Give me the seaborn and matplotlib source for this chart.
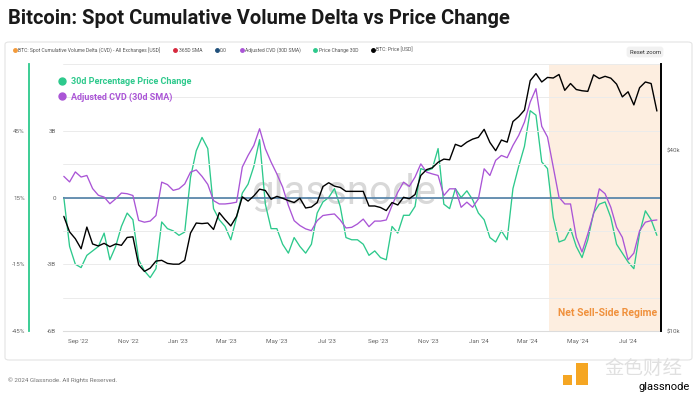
import numpy as np
import pandas as pd
import matplotlib
matplotlib.use("Agg")
import matplotlib.pyplot as plt
import matplotlib.dates as mdates
from matplotlib.lines import Line2D
from matplotlib.patches import FancyBboxPatch, Rectangle
from matplotlib.ticker import FixedLocator, NullLocator
import seaborn as sns

# ------------------------------------------------------------
# data (weekly samples, Mondays from 2022-08-15)
# ------------------------------------------------------------
START_DATE = "2022-08-15"

btc_price_k = [
    24.1, 21.4, 20.3, 18.8, 22.2, 19.5, 19.2, 19.6, 19.1, 19.5,
    19.3, 20.5, 20.6, 16.6, 15.8, 16.2, 17.1, 17.2, 16.8, 16.7,
    16.7, 17.2, 21.2, 22.9, 22.8, 22.9, 21.8, 24.8, 23.5, 22.4,
    24.1, 28.0, 27.1, 28.2, 29.7, 29.4, 27.5, 28.1, 27.7, 27.2,
    26.8, 27.7, 25.7, 25.9, 26.8, 30.3, 31.2, 30.4, 30.1, 29.2,
    29.2, 29.2, 29.2, 26.1, 26.1, 25.8, 25.2, 26.8, 26.3, 27.9,
    27.6, 28.5, 33.0, 34.5, 35.0, 36.5, 37.4, 37.2, 41.9, 41.2,
    42.6, 43.6, 44.2, 47.0, 42.5, 39.9, 43.3, 42.6, 49.9, 51.8,
    54.5, 68.3, 72.1, 67.6, 70.0, 69.7, 71.6, 63.4, 66.8, 63.8,
    63.2, 62.9, 71.4, 69.4, 70.6, 69.6, 66.5, 60.3, 62.7, 56.7,
    64.7, 67.6, 66.8, 54.1,
]

price_change_30d = [
    15, -7, -15, -16.5, -11, -9, -7, -1, -13, -7,
    2, 8, 5, -13, -18, -21, -17, 4, 1, 0,
    -2, -0.5, 24, 36, 42, 37, 10, 5, 2, -4,
    6, 17, 21, 29, 41, 12, 1, 1, -6, -10,
    -3, -7, -10, -6, 8, 13, 15, 19, 11, -3,
    -4, -4, -6, -11, -9, -12, -13, 2, -1, 7,
    7, 11, 28, 27, 28, 37, 12, 10, 19, 15,
    18, 14, 8, 5, -3, -5, 0, -4, 19, 29,
    38, 54, 52, 31, 28, 6, -5, -4, 1, -7,
    -12, -4, 8, 12, 13, 6, -6, -10, -14, -17,
    -1, 9, 5, -2,
]

adjusted_cvd_b = [
    0.95, 0.7, 1.15, 0.92, 0.99, 0.4, 0.1, 0.02, -0.28, -0.06,
    0.2, 0.17, 0.09, -1.03, -1.11, -1.06, -0.81, 0.69, 0.58, 0.32,
    0.39, 0.61, 1.14, 1.24, 0.95, 0.59, -0.14, -0.29, -0.29, -0.26,
    -0.21, 1.37, 1.89, 2.34, 3.09, 2.19, 1.59, 1.06, 0.47, -0.36,
    -1.04, -1.26, -1.41, -1.49, -1.04, -0.81, -0.77, -0.74, -1.01, -1.37,
    -1.34, -1.19, -0.97, -1.31, -1.06, -1.06, -1.01, -0.36, 0.24, 0.69,
    0.5, 0.92, 1.51, 1.14, 1.06, 0.99, 0.09, 0.39, 0.39, -0.44,
    -0.21, -0.44, -0.06, 1.29, 0.99, 1.67, 1.89, 1.79, 2.34, 2.79,
    3.39, 4.29, 4.89, 3.2, 2.72, 1.37, 0.01, -0.29, -0.29, -1.79,
    -2.45, -1.64, -0.74, 0.39, 0.17, -0.44, -1.34, -1.79, -2.8, -2.5,
    -1.49, -1.11, -1.04, -1.01,
]

pct_ticks = [-45, -15, 15, 45]
cvd_ticks = [-6, -4.5, -3, -1.5, 0, 1.5, 3, 4.5, 6]
cvd_labels = ["-6B", "", "-3B", "", "0", "", "3B", "", ""]
price_ticks = [10, 40]

regime_start = "2024-03-27"
x_start, x_end = "2022-08-14", "2024-08-10"

GREEN = "#2dc98c"
PURPLE = "#aa55d6"
BLUE = "#4f7fa6"
ORANGE = "#f0913d"
GREY = "#666666"

df = pd.DataFrame({
    "date": pd.date_range(START_DATE, periods=len(btc_price_k), freq="7D"),
    "price": btc_price_k,
    "pct": price_change_30d,
    "cvd": adjusted_cvd_b,
})

# ------------------------------------------------------------
# figure
# ------------------------------------------------------------
sns.set_style("white")
plt.rcParams["font.family"] = ["Roboto", "DejaVu Sans"]

W, H = 700, 394
fig = plt.figure(figsize=(7, 3.94), dpi=100)
fig.patch.set_facecolor("white")

def fx(px):
    return px / W

def fy(py):
    return 1 - py / H

# card border
fig.patches.append(FancyBboxPatch((fx(5), fy(360)), fx(687), (360 - 42) / H,
                                  boxstyle="round,pad=0,rounding_size=0.006",
                                  transform=fig.transFigure, fc="none",
                                  ec="#e4e4e4", lw=0.8))

ax = fig.add_axes([fx(63), fy(331), fx(598), 267 / H])
ax_pct = ax.twinx()
ax_p = ax.twinx()
ax_pct.set_zorder(1)
ax.set_zorder(2)
ax_p.set_zorder(3)
for a in (ax, ax_pct, ax_p):
    a.patch.set_visible(False)

# --- percentage axis (green, far left) ---
ax_pct.axvspan(pd.Timestamp(regime_start), pd.Timestamp(x_end), color="#fdeee0", lw=0, zorder=0)
ax_pct.text(0.47, 0.52, "glassnode", transform=ax.transAxes, fontsize=29,
            color="#d8d8d8", ha="center", va="center", zorder=0.5)
sns.lineplot(data=df, x="date", y="pct", ax=ax_pct, color=GREEN, lw=0.95)
ax_pct.set_ylim(-45, 75)
ax_pct.yaxis.tick_left()
ax_pct.spines["left"].set_position(("outward", 24.5))
ax_pct.spines["left"].set_color(GREEN)
ax_pct.spines["left"].set_linewidth(1.3)
for s in ("top", "right", "bottom"):
    ax_pct.spines[s].set_visible(False)
ax_pct.yaxis.set_major_locator(FixedLocator(pct_ticks))
ax_pct.set_yticklabels([f"{t}%" for t in pct_ticks])
ax_pct.tick_params(axis="y", length=0, pad=3, labelsize=4.5, labelcolor=GREY)
ax_pct.set_ylabel("")

# --- CVD axis (grid, zero line, purple) ---
sns.lineplot(data=df, x="date", y="cvd", ax=ax, color=PURPLE, lw=0.95)
ax.axhline(0, color=BLUE, lw=1.2, zorder=1)
ax.set_ylim(-6, 6)
ax.set_yticks(cvd_ticks)
ax.set_yticklabels(cvd_labels)
ax.grid(axis="y", color="#ebebeb", lw=0.7)
ax.set_axisbelow(True)
for s in ("top", "right", "left"):
    ax.spines[s].set_visible(False)
ax.spines["bottom"].set_color("#dcdcdc")
ax.tick_params(axis="y", length=0, pad=5, labelsize=4.5, labelcolor=GREY)
ax.set_xlim(pd.Timestamp(x_start), pd.Timestamp(x_end))
ax.xaxis.set_major_locator(mdates.MonthLocator(bymonth=(1, 3, 5, 7, 9, 11)))
ax.xaxis.set_major_formatter(mdates.DateFormatter("%b '%y"))
ax.tick_params(axis="x", length=3, width=0.6, color="#cccccc", pad=3,
               labelsize=4.5, labelcolor=GREY)
ax.set_xlabel("")
ax.set_ylabel("")

# --- price axis (black, log, right) ---
sns.lineplot(data=df, x="date", y="price", ax=ax_p, color="black", lw=1.0)
ax_p.set_yscale("log")
ax_p.set_ylim(10, 77.6)
ax_p.yaxis.set_major_locator(FixedLocator(price_ticks))
ax_p.yaxis.set_minor_locator(NullLocator())
ax_p.set_yticklabels([f"${t}k" for t in price_ticks])
ax_p.tick_params(axis="y", length=0, pad=4, labelsize=4.5, labelcolor=GREY)
for s in ("top", "left", "bottom"):
    ax_p.spines[s].set_visible(False)
ax_p.spines["right"].set_color("black")
ax_p.spines["right"].set_linewidth(1.4)
ax_p.set_ylabel("")
ax_p.set_xlim(pd.Timestamp(x_start), pd.Timestamp(x_end))

# annotation legend inside plot
handles = [Line2D([], [], marker="o", ls="", color=GREEN, markersize=5),
           Line2D([], [], marker="o", ls="", color=PURPLE, markersize=5)]
ax_p.legend(handles, ["30d Percentage Price Change", "Adjusted CVD (30d SMA)"],
            loc="upper left", bbox_to_anchor=(-0.008, 0.95), frameon=False,
            borderpad=0, borderaxespad=0, handlelength=0.8, handletextpad=0.6,
            labelspacing=0.65, labelcolor=[GREEN, PURPLE],
            prop={"weight": "bold", "size": 6.5})

ax_p.text(0.993, 0.067, "Net Sell-Side Regime", transform=ax_p.transAxes,
          ha="right", va="center", fontsize=7.5, weight="bold", color=ORANGE)

# top series legend
top_handles = [Line2D([], [], marker="o", ls="", color=c, markersize=2.5)
               for c in ("#f39a3a", "#d6283c", "#1f4f7a", PURPLE, GREEN, "black")]
top_labels = ["BTC: Spot Cumulative Volume Delta (CVD) - All Exchanges [USD]",
              "365D SMA", "0.0", "Adjusted CVD (30D SMA)", "Price Change 30D",
              "BTC: Price [USD]"]
fig.legend(top_handles, top_labels, ncol=6, loc="center left",
           bbox_to_anchor=(fx(11), fy(50)), frameon=False, fontsize=3.6,
           handlelength=0.6, handletextpad=0.4, columnspacing=2.6,
           labelcolor="#555555", borderpad=0)

fig.text(fx(645), fy(52), "Reset zoom", fontsize=4.2, color="#333333",
         ha="center", va="center",
         bbox=dict(boxstyle="round,pad=0.5", fc="#f1f1f1", ec="none"))

# title and footer
fig.text(fx(8), fy(18), "Bitcoin: Spot Cumulative Volume Delta vs Price Change",
         fontsize=14.5, weight="bold", color="#1a1a1a", ha="left", va="center")
fig.text(fx(8), fy(380), "\u00a9 2024 Glassnode. All Rights Reserved.",
         fontsize=4.5, color="#777777", ha="left", va="center")

# bottom-right watermark
fig.patches.append(Rectangle((fx(576), fy(385)), fx(12), 22 / H, transform=fig.transFigure,
                             fc="#f5a623", ec="none"))
fig.patches.append(Rectangle((fx(563), fy(385)), fx(9), 10 / H, transform=fig.transFigure,
                             fc="#f5a623", ec="none"))
fig.text(fx(643), fy(368), "金色财经", fontsize=14, color="#e0e0e0",
         family=["Noto Sans CJK SC", "DejaVu Sans"], ha="center", va="center")
fig.text(fx(690), fy(386.5), "glassnode", fontsize=8, color="black",
         ha="right", va="center")

fig.savefig("out.png", dpi=100)
